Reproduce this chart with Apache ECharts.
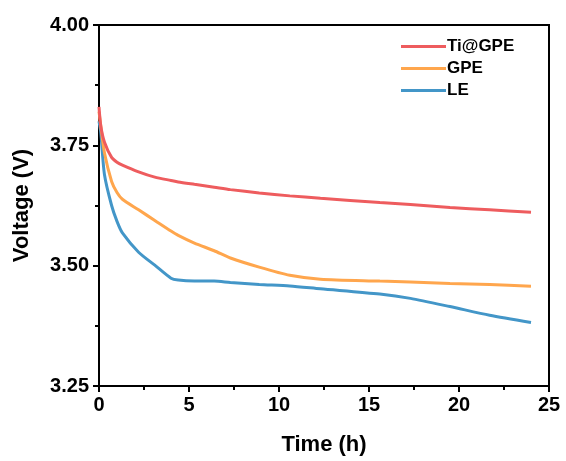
<!DOCTYPE html>
<html><head><meta charset="utf-8">
<script src="https://cdn.jsdelivr.net/npm/echarts@6/dist/echarts.min.js"></script>
<style>html,body{margin:0;padding:0;background:#fff}#c{width:566px;height:461px}</style>
</head><body><div id="c"></div>
<script>
const times = [0, 0.1, 0.3, 0.7, 1.0, 1.3, 2.2, 3.1, 4.0, 4.4, 5.3, 6.4, 7.3, 8.9, 10.6, 12.3, 15.6, 17.3, 19.5, 21.7, 24];
const tiGPE = [3.83, 3.79, 3.757, 3.725, 3.715, 3.709, 3.695, 3.684, 3.677, 3.674, 3.669, 3.663, 3.658, 3.651, 3.645, 3.640, 3.631, 3.627, 3.621, 3.616, 3.611];
const gpe   = [3.82, 3.79, 3.735, 3.675, 3.652, 3.638, 3.616, 3.594, 3.572, 3.563, 3.547, 3.531, 3.516, 3.497, 3.480, 3.472, 3.468, 3.466, 3.463, 3.461, 3.457];
const le    = [3.80, 3.776, 3.69, 3.625, 3.592, 3.568, 3.528, 3.501, 3.474, 3.470, 3.468, 3.468, 3.465, 3.461, 3.458, 3.452, 3.441, 3.432, 3.415, 3.397, 3.382];
const seriesNames = ['Ti@GPE', 'GPE', 'LE'];
const colors = ['#EE5C5E', '#FFA64D', '#4396C8'];
const xTicks = [0, 25, 5];
const yTicks = [3.25, 4.00, 0.25];

const pair = arr => times.map((t, i) => [t, arr[i]]);
const font = '"Liberation Sans", Arial, sans-serif';
const chart = echarts.init(document.getElementById('c'));
chart.setOption({
  animation: false,
  grid: {left: 99, right: 17, top: 25, bottom: 73, show: true, borderColor: '#000', borderWidth: 2},
  legend: {
    data: seriesNames, orient: 'vertical', left: 396, top: 33, itemWidth: 45, itemHeight: 3,
    itemGap: 5, icon: 'rect',
    textStyle: {fontFamily: font, fontWeight: 'bold', fontSize: 17, color: '#000', lineHeight: 17, padding: [0, 0, 0, -4]}
  },
  xAxis: {
    type: 'value', min: xTicks[0], max: xTicks[1], interval: xTicks[2],
    name: 'Time (h)', nameLocation: 'middle', nameGap: 48,
    nameTextStyle: {fontFamily: font, fontWeight: 'bold', fontSize: 22, color: '#000'},
    axisLine: {show: true, onZero: false, lineStyle: {color: '#000', width: 2}},
    axisTick: {show: true, inside: false, length: 6, lineStyle: {width: 2, color: '#000'}},
    minorTick: {show: true, splitNumber: 2, length: 4, lineStyle: {width: 2, color: '#000'}},
    axisLabel: {fontFamily: font, fontWeight: 'bold', fontSize: 20, color: '#000', margin: 9},
    splitLine: {show: false}
  },
  yAxis: {
    type: 'value', min: yTicks[0], max: yTicks[1], interval: yTicks[2],
    name: 'Voltage (V)', nameLocation: 'middle', nameGap: 66,
    nameTextStyle: {fontFamily: font, fontWeight: 'bold', fontSize: 22, color: '#000'},
    axisLine: {show: true, onZero: false, lineStyle: {color: '#000', width: 2}},
    axisTick: {show: true, inside: false, length: 6, lineStyle: {width: 2, color: '#000'}},
    minorTick: {show: true, splitNumber: 2, length: 4, lineStyle: {width: 2, color: '#000'}},
    axisLabel: {fontFamily: font, fontWeight: 'bold', fontSize: 20, color: '#000', margin: 10,
      formatter: v => v.toFixed(2)},
    splitLine: {show: false}
  },
  series: [tiGPE, gpe, le].map((arr, i) => ({
    name: seriesNames[i], type: 'line', data: pair(arr), showSymbol: false, smooth: 0.25,
    color: colors[i], lineStyle: {width: 3, color: colors[i]}, z: 3 - i
  }))
});
</script></body></html>
